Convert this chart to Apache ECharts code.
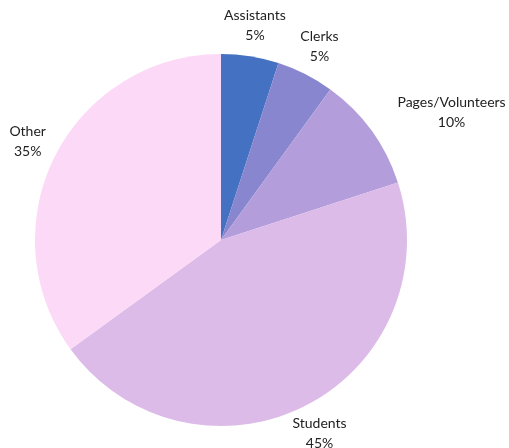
<!DOCTYPE html>
<html>
<head>
<meta charset="utf-8">
<script src="https://cdn.jsdelivr.net/npm/echarts@6/dist/echarts.min.js"></script>
<style>
  html, body { margin: 0; padding: 0; background: #fff; }
  #chart { width: 509px; height: 448px; }
</style>
</head>
<body>
<div id="chart"></div>
<script>
    var categories = ['Assistants', 'Clerks', 'Pages/Volunteers', 'Students', 'Other'];
    var shares = [5, 5, 10, 45, 35];
    var colors = ['#4571c3', '#8886cf', '#b39ddb', '#dcbbe8', '#fcd9f7'];

    var pieData = [];
    var labelData = [];
    for (var i = 0; i < categories.length; i++) {
        pieData.push({ name: categories[i], value: shares[i], itemStyle: { color: colors[i] } });
        var lab = { name: categories[i], value: shares[i] };
        if (categories[i] == 'Pages/Volunteers') {
            lab.label = { offset: [55, 0] };
        }
        labelData.push(lab);
    }

    var chart = echarts.init(document.getElementById('chart'));
    var option = {
        animation: false,
        series: [
            {
                type: 'pie',
                center: [221, 240],
                radius: 186,
                startAngle: 90,
                silent: true,
                label: { show: false },
                labelLine: { show: false },
                data: pieData
            },
            {
                // transparent ring used only to place the centred labels
                type: 'pie',
                center: [221, 240],
                radius: [198, 230],
                startAngle: 90,
                silent: true,
                itemStyle: { color: 'rgba(0,0,0,0)' },
                label: {
                    show: true,
                    position: 'inside',
                    formatter: '{b}\n{c}%',
                    color: '#222',
                    fontFamily: 'Lato',
                    fontSize: 14,
                    lineHeight: 20,
                    align: 'center'
                },
                labelLine: { show: false },
                data: labelData
            }
        ]
    };
    chart.setOption(option);
</script>
</body>
</html>
